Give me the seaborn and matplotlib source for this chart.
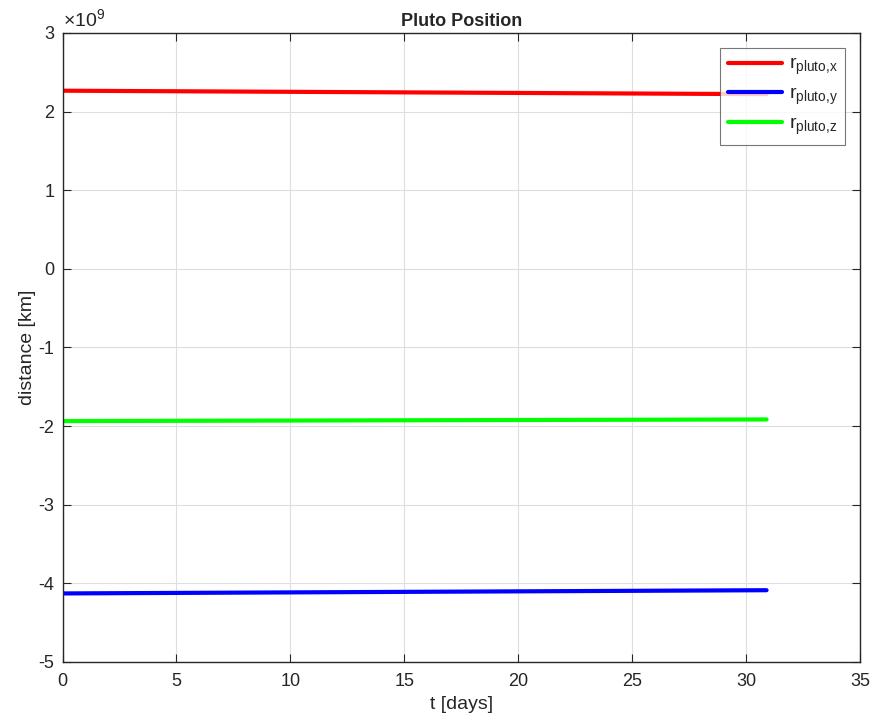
import numpy as np
import pandas as pd
import matplotlib
matplotlib.use("Agg")
import matplotlib.pyplot as plt
import seaborn as sns
from matplotlib.ticker import FuncFormatter

# Data
t_days = [0, 30.9]
r_x = [2.266e9, 2.222e9]
r_y = [-4.128e9, -4.087e9]
r_z = [-1.936e9, -1.915e9]
series_names = [r"r$_{\mathregular{pluto{,}x}}$", r"r$_{\mathregular{pluto{,}y}}$", r"r$_{\mathregular{pluto{,}z}}$"]
colors = ["#ff0000", "#0000ff", "#00ff00"]
x_ticks = [0, 5, 10, 15, 20, 25, 30, 35]
y_ticks = [-5e9, -4e9, -3e9, -2e9, -1e9, 0, 1e9, 2e9, 3e9]
y_scale = 1e9

sns.set_style("white")
plt.rcParams['font.family'] = ['Liberation Sans', 'DejaVu Sans']
plt.rcParams['axes.unicode_minus'] = False
plt.rcParams['mathtext.fontset'] = 'custom'
plt.rcParams['mathtext.rm'] = 'Liberation Sans'
plt.rcParams['mathtext.it'] = 'Liberation Sans'
plt.rcParams['mathtext.default'] = 'regular'

df = pd.concat([
    pd.DataFrame({"t": t_days, "r": vals, "series": name})
    for vals, name in zip([r_x, r_y, r_z], series_names)
])

fig = plt.figure(figsize=(8.72, 7.25), dpi=100)
ax = fig.add_axes([0.0717, 0.0869, 0.9145, 0.8676])

sns.lineplot(data=df, x="t", y="r", hue="series", palette=colors,
             linewidth=3, ax=ax, legend=True)

ax.set_xlim(0, 35)
ax.set_ylim(-5e9, 3e9)
ax.set_xticks(x_ticks)
ax.set_yticks(y_ticks)
ax.yaxis.set_major_formatter(FuncFormatter(lambda v, p: "%g" % round(v / y_scale, 6)))
ax.text(0.0, 1.004, r"$\times 10^{9}$", transform=ax.transAxes, fontsize=14,
        color='#262626', ha='left', va='bottom')

ax.grid(True, color='#dedede', linewidth=0.8)
ax.set_axisbelow(True)
for s in ax.spines.values():
    s.set_color('#262626')
    s.set_linewidth(1.0)
    s.set_visible(True)
ax.tick_params(direction='in', length=6, width=0.8, colors='#262626',
               labelsize=13, top=True, right=True, bottom=True, left=True)
ax.tick_params(axis='x', pad=8)
ax.tick_params(axis='y', pad=6)

ax.set_xlabel("t [days]", fontsize=14, color='#262626', labelpad=4)
ax.set_ylabel("distance [km]", fontsize=14, color='#262626', labelpad=2)
ax.set_title("Pluto Position", fontsize=13, fontweight='bold', pad=5)

leg = ax.legend(loc='upper right', bbox_to_anchor=(0.9815, 0.976), fontsize=14,
                frameon=True, fancybox=False, edgecolor='#555555',
                handlelength=2.75, handletextpad=0.35, borderaxespad=0.0,
                labelspacing=0.42, borderpad=0.4)
leg.get_frame().set_linewidth(0.8)
for line in leg.get_lines():
    line.set_linewidth(3)

fig.savefig("out.png", dpi=100)
